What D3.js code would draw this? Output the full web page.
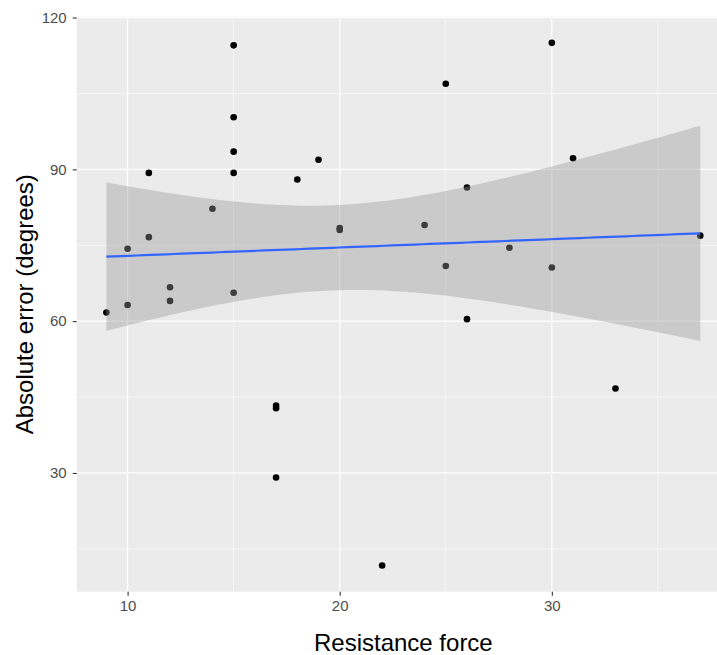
<!DOCTYPE html>
<html>
<head>
<meta charset="utf-8">
<script src="https://cdn.jsdelivr.net/npm/d3@7"></script>
<style>
  body { margin: 0; background: #fff; }
  svg { display: block; font-family: "Liberation Sans", Arial, sans-serif; }
</style>
</head>
<body>
<div id="chart"></div>
<script>
// Resistance force (x) vs absolute error in degrees (y)
const force = [9, 10, 10, 11, 11, 12, 12, 14, 15, 15, 15, 15, 15, 17, 17, 17,
  18, 19, 20, 20, 22, 24, 25, 25, 26, 26, 28, 30, 30, 31, 33, 37];
const absError = [61.7, 74.3, 63.2, 89.3, 76.6, 66.7, 64.0, 82.2, 114.5, 100.3, 93.5, 89.3, 65.6, 43.3, 42.8, 29.1,
  88.0, 91.9, 78.4, 78.0, 11.7, 79.0, 106.9, 70.9, 86.4, 60.4, 74.5, 115.0, 70.6, 92.2, 46.7, 76.9];
const xTicks = [10, 20, 30];
const yTicks = [30, 60, 90, 120];
const xMinor = [15, 25, 35];
const yMinor = [15, 45, 75, 105];

const width = 717, height = 655;
const panel = { left: 76.7, top: 16.7, right: 730, bottom: 591.7 };

const points = force.map((f, i) => ({ x: f, y: absError[i] }));

// ggplot-style 5% expansion
function expand([a, b]) { const d = (b - a) * 0.05; return [a - d, b + d]; }

const x = d3.scaleLinear().domain(expand(d3.extent(force))).range([panel.left, panel.right]);
const y = d3.scaleLinear().domain(expand(d3.extent(absError))).range([panel.bottom, panel.top]);

// linear model with 95% confidence band (geom_smooth(method = "lm"))
const n = points.length;
const mx = d3.mean(force), my = d3.mean(absError);
const sxx = d3.sum(force, v => (v - mx) ** 2);
const sxy = d3.sum(points, d => (d.x - mx) * (d.y - my));
const slope = sxy / sxx, icpt = my - slope * mx;
const rss = d3.sum(points, d => (d.y - (icpt + slope * d.x)) ** 2);
const sigma = Math.sqrt(rss / (n - 2));
const tq = 2.0423; // qt(0.975, 30)
const [fx0, fx1] = d3.extent(force);
const fit = d3.range(80).map(i => {
  const xv = fx0 + (fx1 - fx0) * i / 79;
  const yv = icpt + slope * xv;
  const se = sigma * Math.sqrt(1 / n + (xv - mx) ** 2 / sxx);
  return { x: xv, y: yv, lo: yv - tq * se, hi: yv + tq * se };
});

const svg = d3.select("#chart").append("svg").attr("width", width).attr("height", height);

svg.append("rect")
  .attr("x", panel.left).attr("y", panel.top)
  .attr("width", panel.right - panel.left).attr("height", panel.bottom - panel.top)
  .attr("fill", "#EBEBEB");

// grid
const grid = svg.append("g");
grid.selectAll(".vminor").data(xMinor).join("line")
  .attr("x1", d => x(d)).attr("x2", d => x(d)).attr("y1", panel.top).attr("y2", panel.bottom)
  .attr("stroke", "#fff").attr("stroke-width", 0.6);
grid.selectAll(".hminor").data(yMinor).join("line")
  .attr("y1", d => y(d)).attr("y2", d => y(d)).attr("x1", panel.left).attr("x2", panel.right)
  .attr("stroke", "#fff").attr("stroke-width", 0.6);
grid.selectAll(".vmajor").data(xTicks).join("line")
  .attr("x1", d => x(d)).attr("x2", d => x(d)).attr("y1", panel.top).attr("y2", panel.bottom)
  .attr("stroke", "#fff").attr("stroke-width", 1.2);
grid.selectAll(".hmajor").data(yTicks).join("line")
  .attr("y1", d => y(d)).attr("y2", d => y(d)).attr("x1", panel.left).attr("x2", panel.right)
  .attr("stroke", "#fff").attr("stroke-width", 1.2);

// points (drawn under the ribbon, as in ggplot layer order)
svg.append("g").selectAll("circle").data(points).join("circle")
  .attr("cx", d => x(d.x)).attr("cy", d => y(d.y)).attr("r", 3.3)
  .attr("fill", "#000");

svg.append("path").datum(fit)
  .attr("d", d3.area().x(d => x(d.x)).y0(d => y(d.lo)).y1(d => y(d.hi)))
  .attr("fill", "#999999").attr("fill-opacity", 0.4);

svg.append("path").datum(fit)
  .attr("d", d3.line().x(d => x(d.x)).y(d => y(d.y)))
  .attr("fill", "none").attr("stroke", "#3366FF").attr("stroke-width", 2.2);

// axes
const xAxis = svg.append("g").attr("transform", `translate(0,${panel.bottom})`)
  .call(d3.axisBottom(x).tickValues(xTicks).tickSize(4).tickPadding(5));
const yAxis = svg.append("g").attr("transform", `translate(${panel.left},0)`)
  .call(d3.axisLeft(y).tickValues(yTicks).tickSize(4).tickPadding(6));
[xAxis, yAxis].forEach(a => {
  a.select(".domain").remove();
  a.selectAll(".tick line").attr("stroke", "#333").attr("stroke-width", 1.1);
  a.selectAll(".tick text").attr("fill", "#4D4D4D").attr("font-size", 15)
    .attr("font-family", "Liberation Sans, Arial, sans-serif");
});

svg.append("text")
  .attr("x", (panel.left + panel.right) / 2).attr("y", 651)
  .attr("text-anchor", "middle").attr("font-size", 24).attr("fill", "#000")
  .text("Resistance force");

svg.append("text")
  .attr("transform", `translate(33,${(panel.top + panel.bottom) / 2}) rotate(-90)`)
  .attr("text-anchor", "middle").attr("font-size", 24).attr("fill", "#000")
  .text("Absolute error (degrees)");
</script>
</body>
</html>
